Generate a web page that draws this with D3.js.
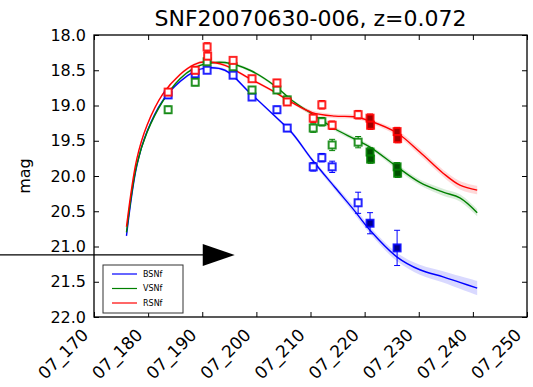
<html>
<script src="https://cdnjs.cloudflare.com/ajax/libs/d3/7.8.5/d3.min.js"></script>
<style>
  body { margin: 0; background: #fff; }
  text { font-family: "DejaVu Sans", sans-serif; fill: #000; }
</style>
<body>
<svg id="chart" width="533" height="387"></svg>
<script>
// ---- data ----
const title = "SNF20070630-006, z=0.072";
const xTicks = [170, 180, 190, 200, 210, 220, 230, 240, 250];
const yTicks = [18.0, 18.5, 19.0, 19.5, 20.0, 20.5, 21.0, 21.5, 22.0];
const bands = ["BSNf", "VSNf", "RSNf"];

// model light curves
const modelT = [176, 177.9, 179.8, 182.7, 185.9, 188.5, 190.5, 194.2, 198.8, 203.4, 206.6,
                210.3, 214.5, 218, 221, 226, 230.2, 234.5, 237.6, 240.8];
const modelB = [20.85, 19.86, 19.37, 18.93, 18.66, 18.52, 18.47, 18.50, 18.82, 19.15, 19.39,
                19.77, 20.16, 20.48, 20.77, 21.15, 21.33, 21.43, 21.51, 21.59];
const modelV = [20.80, 19.84, 19.38, 18.94, 18.62, 18.47, 18.41, 18.39, 18.50, 18.72, 18.93,
                19.12, 19.33, 19.47, 19.59, 19.87, 20.09, 20.23, 20.31, 20.52];
const modelR = [20.72, 19.76, 19.28, 18.84, 18.56, 18.42, 18.38, 18.43, 18.62, 18.81, 18.96,
                19.10, 19.15, 19.16, 19.22, 19.39, 19.66, 19.96, 20.13, 20.20];
const sigB = [0.04, 0.03, 0.03, 0.02, 0.02, 0.02, 0.02, 0.02, 0.02, 0.02, 0.03,
              0.03, 0.04, 0.05, 0.05, 0.06, 0.07, 0.08, 0.09, 0.10];
const sigV = [0.04, 0.03, 0.03, 0.02, 0.02, 0.02, 0.02, 0.02, 0.02, 0.02, 0.02,
              0.03, 0.03, 0.03, 0.03, 0.04, 0.04, 0.05, 0.05, 0.05];
const sigR = [0.04, 0.03, 0.03, 0.02, 0.02, 0.02, 0.02, 0.02, 0.02, 0.02, 0.02,
              0.03, 0.03, 0.03, 0.03, 0.04, 0.05, 0.05, 0.06, 0.06];

// observations: [t, mag, err, filled]
const obsB = [[183.7, 18.85, 0.05, 0], [188.7, 18.55, 0.05, 0], [190.9, 18.50, 0.04, 0],
              [195.7, 18.57, 0.04, 0], [199.2, 18.88, 0.04, 0], [203.8, 19.06, 0.05, 0],
              [205.7, 19.32, 0.05, 0], [210.5, 19.87, 0.06, 0], [212.1, 19.74, 0.06, 0],
              [214.0, 19.87, 0.08, 0], [218.8, 20.38, 0.15, 0], [221.0, 20.67, 0.15, 1],
              [226.0, 21.02, 0.25, 1]];
const obsV = [[183.7, 19.06, 0.05, 0], [188.7, 18.67, 0.05, 0], [190.9, 18.38, 0.04, 0],
              [195.7, 18.45, 0.04, 0], [199.2, 18.78, 0.04, 0], [203.8, 18.78, 0.05, 0],
              [205.7, 18.92, 0.05, 0], [210.5, 19.32, 0.06, 0], [212.1, 19.23, 0.06, 0],
              [214.0, 19.56, 0.08, 0], [218.8, 19.52, 0.08, 0], [221.0, 19.66, 0.06, 1],
              [221.1, 19.76, 0.06, 1], [226.0, 19.87, 0.06, 1], [226.1, 19.96, 0.06, 1]];
const obsR = [[183.7, 18.81, 0.05, 0], [188.7, 18.50, 0.05, 0], [190.9, 18.17, 0.06, 0],
              [191.0, 18.30, 0.05, 0], [195.7, 18.36, 0.04, 0], [199.2, 18.62, 0.04, 0],
              [203.8, 18.68, 0.05, 0], [205.7, 18.95, 0.05, 0], [210.5, 19.18, 0.06, 0],
              [212.1, 18.99, 0.06, 0], [214.0, 19.28, 0.06, 0], [218.8, 19.13, 0.06, 0],
              [221.0, 19.18, 0.06, 1], [221.1, 19.28, 0.06, 1], [226.0, 19.37, 0.06, 1],
              [226.1, 19.47, 0.06, 1]];

// annotation arrow tip (data coords)
const arrowTip = [196, 21.12];

const colors = ["#0000ff", "#008000", "#ff0000"];
const darks = ["#00008b", "#005000", "#a00000"];
const models = [modelB, modelV, modelR];
const sigmas = [sigB, sigV, sigR];
const obs = [obsB, obsV, obsR];

const svg = d3.select("#chart");
const L = 94, R = 527, T = 35, B = 317;

const x = d3.scaleLinear().domain([170, 250]).range([L, R]);
const y = d3.scaleLinear().domain([18, 22]).range([T, B]);

svg.append("rect").attr("width", 533).attr("height", 387).attr("fill", "#fff");

svg.append("clipPath").attr("id", "clip")
  .append("rect").attr("x", L).attr("y", T).attr("width", R - L).attr("height", B - T);
const plot = svg.append("g").attr("clip-path", "url(#clip)");

// bands + lines
models.forEach((m, i) => {
  const pts = modelT.map((t, j) => ({t: t, m: m[j], s: sigmas[i][j]}));
  plot.append("path").datum(pts)
    .attr("fill", colors[i]).attr("fill-opacity", 0.15)
    .attr("d", d3.area().curve(d3.curveCatmullRom)
      .x(d => x(d.t)).y0(d => y(d.m - d.s)).y1(d => y(d.m + d.s)));
  plot.append("path").datum(pts)
    .attr("fill", "none").attr("stroke", colors[i]).attr("stroke-width", 1.4)
    .attr("d", d3.line().curve(d3.curveCatmullRom).x(d => x(d.t)).y(d => y(d.m)));
});

// observations
obs.forEach((arr, i) => {
  const g = plot.append("g");
  g.selectAll("line.eb").data(arr).enter().append("line")
    .attr("x1", d => x(d[0])).attr("x2", d => x(d[0]))
    .attr("y1", d => y(d[1] - d[2])).attr("y2", d => y(d[1] + d[2]))
    .attr("stroke", colors[i]).attr("stroke-width", 1);
  [-1, 1].forEach(sgn => {
    g.selectAll("line.cap" + sgn).data(arr).enter().append("line")
      .attr("x1", d => x(d[0]) - 3).attr("x2", d => x(d[0]) + 3)
      .attr("y1", d => y(d[1] + sgn * d[2])).attr("y2", d => y(d[1] + sgn * d[2]))
      .attr("stroke", colors[i]).attr("stroke-width", 1);
  });
  g.selectAll("rect").data(arr).enter().append("rect")
    .attr("x", d => x(d[0]) - 3.5).attr("y", d => y(d[1]) - 3.5)
    .attr("width", 7).attr("height", 7)
    .attr("fill", d => d[3] ? darks[i] : "#fff")
    .attr("stroke", colors[i]).attr("stroke-width", 2).attr("stroke-opacity", 0.85);
});

// frame
svg.append("rect").attr("x", L).attr("y", T).attr("width", R - L).attr("height", B - T)
  .attr("fill", "none").attr("stroke", "#000").attr("stroke-width", 1.3);

// axes
const ax = svg.append("g").attr("transform", "translate(0," + B + ")")
  .call(d3.axisBottom(x).tickValues(xTicks).tickSize(-5).tickFormat(d => "07_" + d));
ax.selectAll("text").attr("y", null).attr("dy", null)
  .attr("text-anchor", "end").attr("transform", "translate(-5,19) rotate(-45)")
  .style("font-size", "17px");
svg.append("g").attr("transform", "translate(0," + T + ")")
  .call(d3.axisTop(x).tickValues(xTicks).tickSize(-5).tickFormat(""));
const ay = svg.append("g").attr("transform", "translate(" + L + ",0)")
  .call(d3.axisLeft(y).tickValues(yTicks).tickSize(-5).tickPadding(8).tickFormat(d3.format(".1f")));
ay.selectAll("text").style("font-size", "16px");
svg.append("g").attr("transform", "translate(" + R + ",0)")
  .call(d3.axisRight(y).tickValues(yTicks).tickSize(-5).tickFormat(""));
svg.selectAll(".domain").remove();
svg.selectAll(".tick line").attr("stroke", "#000");
svg.selectAll(".tick text").attr("fill", "#000").style("font-family", "DejaVu Sans");

// title and label
svg.append("text").attr("x", (L + R) / 2).attr("y", 26).attr("text-anchor", "middle")
  .style("font-size", "22px").text(title);
svg.append("text").attr("transform", "translate(30," + ((T + B) / 2) + ") rotate(-90)")
  .attr("text-anchor", "middle").style("font-size", "16px").text("mag");

// legend
const lg = svg.append("g").attr("transform", "translate(103,265)");
lg.append("rect").attr("width", 80).attr("height", 48)
  .attr("fill", "#fff").attr("stroke", "#333").attr("stroke-width", 1);
bands.forEach((b, i) => {
  const yy = 9 + i * 14.5;
  lg.append("line").attr("x1", 9).attr("x2", 34).attr("y1", yy).attr("y2", yy)
    .attr("stroke", colors[i]).attr("stroke-width", 1.2);
  lg.append("text").attr("x", 40).attr("y", yy).attr("dy", "0.35em")
    .style("font-size", "8px").attr("fill", "#444").text(b);
});

// annotation arrow
const tx = x(arrowTip[0]), ty = y(arrowTip[1]);
svg.append("line").attr("x1", 0).attr("x2", tx - 30).attr("y1", ty).attr("y2", ty)
  .attr("stroke", "#000").attr("stroke-width", 1.3);
svg.append("path").attr("d", d3.line()([[tx - 32, ty - 11], [tx, ty], [tx - 32, ty + 11]]) + "Z")
  .attr("fill", "#000");
</script>
</body>
</html>
